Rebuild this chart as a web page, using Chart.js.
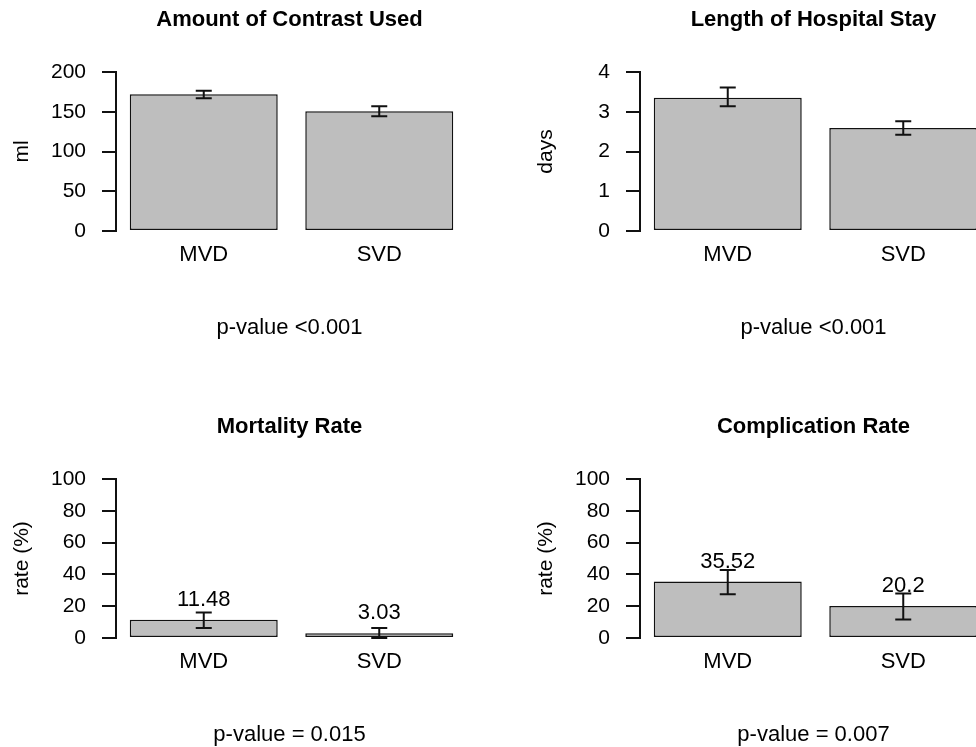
<!DOCTYPE html>
<html>
<head>
<meta charset="utf-8">
<script src="https://cdn.jsdelivr.net/npm/chart.js@4"></script>
<style>
  html, body { margin: 0; padding: 0; background: #fff; overflow: hidden; width: 976px; height: 747px; }
  .panel { position: absolute; }
</style>
</head>
<body>
<div class="panel" style="left:0;top:0"><canvas id="c1" width="488" height="373"></canvas></div>
<div class="panel" style="left:488px;top:0"><canvas id="c2" width="520" height="373"></canvas></div>
<div class="panel" style="left:0;top:407px"><canvas id="c3" width="488" height="373"></canvas></div>
<div class="panel" style="left:488px;top:407px"><canvas id="c4" width="520" height="373"></canvas></div>
<script>
const groups = ['MVD', 'SVD'];

// means and error bar ends
const contrastMean = [172.0, 150.6];
const contrastLow = [166.9, 144.3];
const contrastHigh = [176.5, 156.9];

const stayMean = [3.35, 2.59];
const stayLow = [3.14, 2.42];
const stayHigh = [3.61, 2.76];

const mortalityMean = [11.48, 3.03];
const mortalityLow = [6.3, 0];
const mortalityHigh = [16.0, 6.3];

const complicationMean = [35.52, 20.2];
const complicationLow = [27.5, 11.6];
const complicationHigh = [42.7, 28.0];

const contrastTicks = [0, 50, 100, 150, 200];
const stayTicks = [0, 1, 2, 3, 4];
const rateTicks = [0, 20, 40, 60, 80, 100];

const FONT = '"Liberation Sans", Arial, Helvetica, sans-serif';
const INK = '#000';
const LINE = '#111';

// draws title, y label, p-value, error bars and value labels
const panelDecor = {
  id: 'panelDecor',
  afterDatasetsDraw(chart, args, opts) {
    const ctx = chart.ctx;
    const area = chart.chartArea;
    const y = chart.scales.y;
    const meta = chart.getDatasetMeta(0);
    ctx.save();

    // error bars
    ctx.strokeStyle = LINE;
    ctx.lineWidth = 2;
    meta.data.forEach((bar, i) => {
      const yl = y.getPixelForValue(opts.low[i]);
      const yh = y.getPixelForValue(opts.high[i]);
      ctx.beginPath();
      ctx.moveTo(bar.x, yl); ctx.lineTo(bar.x, yh);
      ctx.moveTo(bar.x - 8, yl); ctx.lineTo(bar.x + 8, yl);
      ctx.moveTo(bar.x - 8, yh); ctx.lineTo(bar.x + 8, yh);
      ctx.stroke();
    });

    ctx.fillStyle = INK;
    ctx.textAlign = 'center';

    if (opts.showValues) {
      ctx.font = '22px ' + FONT;
      ctx.textBaseline = 'middle';
      meta.data.forEach((bar, i) => {
        const v = chart.data.datasets[0].data[i];
        ctx.fillText(String(v), bar.x, y.getPixelForValue(v) - 20);
      });
    }

    const cx = (area.left + area.right) / 2;
    ctx.font = 'bold 22px ' + FONT;
    ctx.textBaseline = 'middle';
    ctx.fillText(opts.title, cx - 2, 20);

    ctx.font = '22px ' + FONT;
    ctx.textBaseline = 'alphabetic';
    ctx.fillText(opts.pval, cx - 2, area.bottom + 103);

    ctx.font = '21px ' + FONT;
    ctx.translate(area.left - 94, (area.top + area.bottom) / 2);
    ctx.rotate(-Math.PI / 2);
    ctx.textBaseline = 'middle';
    ctx.fillText(opts.ylab, 0, 0);
    ctx.restore();
  }
};

function makePanel(id, canvasWidth, mean, low, high, ticks, title, ylab, pval, showValues) {
  new Chart(document.getElementById(id), {
    type: 'bar',
    data: {
      labels: groups,
      datasets: [{
        data: mean,
        backgroundColor: '#bebebe',
        borderColor: LINE,
        borderWidth: 1.5,
        borderSkipped: false,
        categoryPercentage: 1,
        barPercentage: 0.843
      }]
    },
    options: {
      responsive: false,
      animation: false,
      devicePixelRatio: 1,
      layout: {
        padding: { left: 0, top: 72, right: canvasWidth === 488 ? 21 : 17, bottom: 102 }
      },
      scales: {
        x: {
          grid: { display: false, drawTicks: false },
          border: { display: false },
          ticks: { color: INK, font: { family: FONT, size: 22 }, padding: 11 },
          afterFit: s => { s.height = 40; }
        },
        y: {
          min: ticks[0],
          max: ticks[ticks.length - 1],
          afterBuildTicks: s => { s.ticks = ticks.map(v => ({ value: v })); },
          grid: { drawOnChartArea: false, drawTicks: true, tickLength: 14, color: LINE, lineWidth: 2 },
          border: { display: true, color: LINE, width: 2 },
          ticks: { color: INK, font: { family: FONT, size: 21 }, padding: 16 },
          afterFit: s => { s.width = canvasWidth === 488 ? 116 : 152; }
        }
      },
      plugins: {
        legend: { display: false },
        tooltip: { enabled: false },
        panelDecor: { title, ylab, pval, low, high, showValues }
      }
    },
    plugins: [panelDecor]
  });
}

makePanel('c1', 488, contrastMean, contrastLow, contrastHigh, contrastTicks,
  'Amount of Contrast Used', 'ml', 'p-value <0.001', false);
makePanel('c2', 520, stayMean, stayLow, stayHigh, stayTicks,
  'Length of Hospital Stay', 'days', 'p-value <0.001', false);
makePanel('c3', 488, mortalityMean, mortalityLow, mortalityHigh, rateTicks,
  'Mortality Rate', 'rate (%)', 'p-value = 0.015', true);
makePanel('c4', 520, complicationMean, complicationLow, complicationHigh, rateTicks,
  'Complication Rate', 'rate (%)', 'p-value = 0.007', true);
</script>
</body>
</html>
